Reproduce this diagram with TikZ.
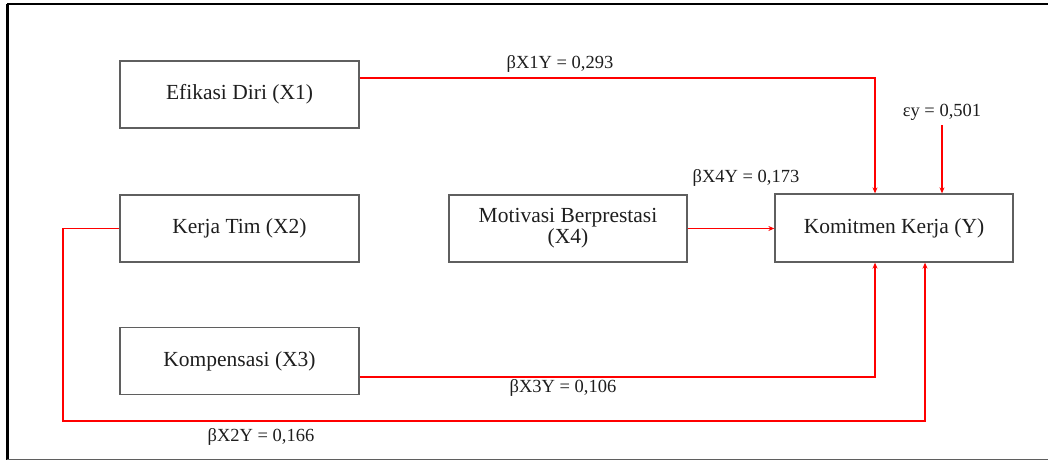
\documentclass[tikz,border=0pt]{standalone}
\usepackage{fontspec}
\setmainfont{Liberation Serif}
\usetikzlibrary{arrows.meta}
\definecolor{txt}{RGB}{30,30,30}
\definecolor{boxc}{RGB}{95,95,95}
\tikzset{
  varbox/.style={draw=boxc, line width=1.3pt, minimum width=239pt, minimum height=67pt, inner sep=0pt, align=center, font=\fontsize{21.5}{21}\selectfont, text=txt},
  coef/.style={font=\fontsize{18.5}{22}\selectfont, text=txt, inner sep=0pt},
  arr/.style={draw=red, line width=1.8pt, -{Stealth[length=6pt,width=5pt]}},
  lnk/.style={draw=red, line width=1.8pt}
}
\begin{document}
\begin{tikzpicture}[x=1pt,y=-1pt]
\useasboundingbox (0,0) rectangle (1048,461);
% frame
\draw[black, line width=2pt] (7,4) -- (1050,4);
\draw[black, line width=3pt] (7,4) -- (7,460);
\draw[boxc, line width=1.5pt] (7,459.5) -- (1050,459.5);
% boxes
\node[varbox] (X1) at (239.5,94.5) {Efikasi Diri (X1)};
\node[varbox] (X2) at (239.5,228.5) {Kerja Tim (X2)};
\node[varbox] (X3) at (239.5,361) {Kompensasi (X3)};
\node[varbox, minimum width=238pt] (X4) at (568,228.5) {Motivasi Berprestasi\\(X4)};
\node[varbox, minimum width=238pt, minimum height=68pt] (Y) at (894,228) {Komitmen Kerja (Y)};
% coordinates
\coordinate (a1) at (875,78);
\coordinate (a3) at (875,377);
\coordinate (c2l) at (63,421);
\coordinate (c2r) at (925,421);
\coordinate (e1) at (942,125);
% labels
\node[coef] (L1) at (560,64) {βX1Y = 0,293};
\node[coef] (L4) at (746,178) {βX4Y = 0,173};
\node[coef] (LE) at (942,112) {εy = 0,501};
\node[coef] (L3) at (563,388) {βX3Y = 0,106};
\node[coef] (L2) at (261,437) {βX2Y = 0,166};
% connectors
\draw[arr] (X1.east |- a1) -| (Y.north -| a1);
\draw[arr] (X3.east |- a3) -| (Y.south -| a3);
\draw[arr] (X4.east) -- (Y.west |- X4.east);
\draw[arr] (X2.west) -| (c2l) -- (c2r) -- (Y.south -| c2r);
\draw[arr] (e1) -- (Y.north -| e1);
\end{tikzpicture}
\end{document}
